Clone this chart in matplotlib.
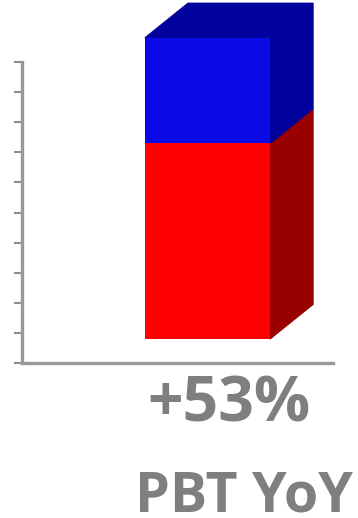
import matplotlib.pyplot as plt
from matplotlib.patches import Polygon

# data (axis units, tick step 10)
categories = ["PBT"]
red_vals = [65]
blue_vals = [35]
floor = 8          # 3D floor lift of the bar
change_label = "+53%"
metric_label = "PBT YoY"

fig = plt.figure(figsize=(3.58, 5.18), dpi=100)
ax = fig.add_axes([22 / 358, (518 - 363) / 518, 336 / 358, 363 / 518])
ax.set_xlim(0, 336)
ax.set_ylim(0, 363 / 3.01)

bar_x = [123]
bar_w = 125
ax.bar(bar_x, red_vals, width=bar_w, bottom=floor, align='edge',
       color='#ff0000', zorder=3)
ax.bar(bar_x, blue_vals, width=bar_w, bottom=[floor + r for r in red_vals],
       align='edge', color='#0a0ae6', zorder=3)

# 3D depth faces
dx, dy = 43, 11.5
x1 = bar_x[0] + bar_w
y0 = floor
y1 = floor + red_vals[0]
y2 = y1 + blue_vals[0]
side_red = Polygon([(x1, y0), (x1 + dx, y0 + dy), (x1 + dx, y1 + dy), (x1, y1)],
                   closed=True, color='#990000', zorder=2)
side_blue = Polygon([(x1, y1), (x1 + dx, y1 + dy), (x1 + dx, y2 + dy), (x1, y2)],
                    closed=True, color='#00009a', zorder=2)
top = Polygon([(bar_x[0], y2), (bar_x[0] + dx, y2 + dy), (x1 + dx, y2 + dy), (x1, y2)],
              closed=True, color='#02029c', zorder=2)
for p in (side_red, side_blue, top):
    ax.add_patch(p)

# axes styling
for s in ['top', 'right']:
    ax.spines[s].set_visible(False)
ax.spines['left'].set_bounds(0, 100)
ax.spines['bottom'].set_bounds(0, 311)
for s in ['left', 'bottom']:
    ax.spines[s].set_color('#999999')
    ax.spines[s].set_linewidth(2.4)
ax.set_yticks(range(0, 101, 10))
ax.set_yticklabels([])
ax.set_xticks([])
ax.tick_params(axis='y', direction='out', length=6, width=1.5, color='#8f8f8f')
ax.patch.set_alpha(0)

fig.text(229 / 358, (518 - 422) / 518, change_label, ha='center', va='baseline',
         fontsize=45, fontweight='bold', family='Open Sans', color='#7f7f7f')
fig.text(244 / 358, (518 - 511) / 518, metric_label, ha='center', va='baseline',
         fontsize=40, fontweight='bold', family='Open Sans', color='#7f7f7f')

plt.savefig("out.png", dpi=100)
